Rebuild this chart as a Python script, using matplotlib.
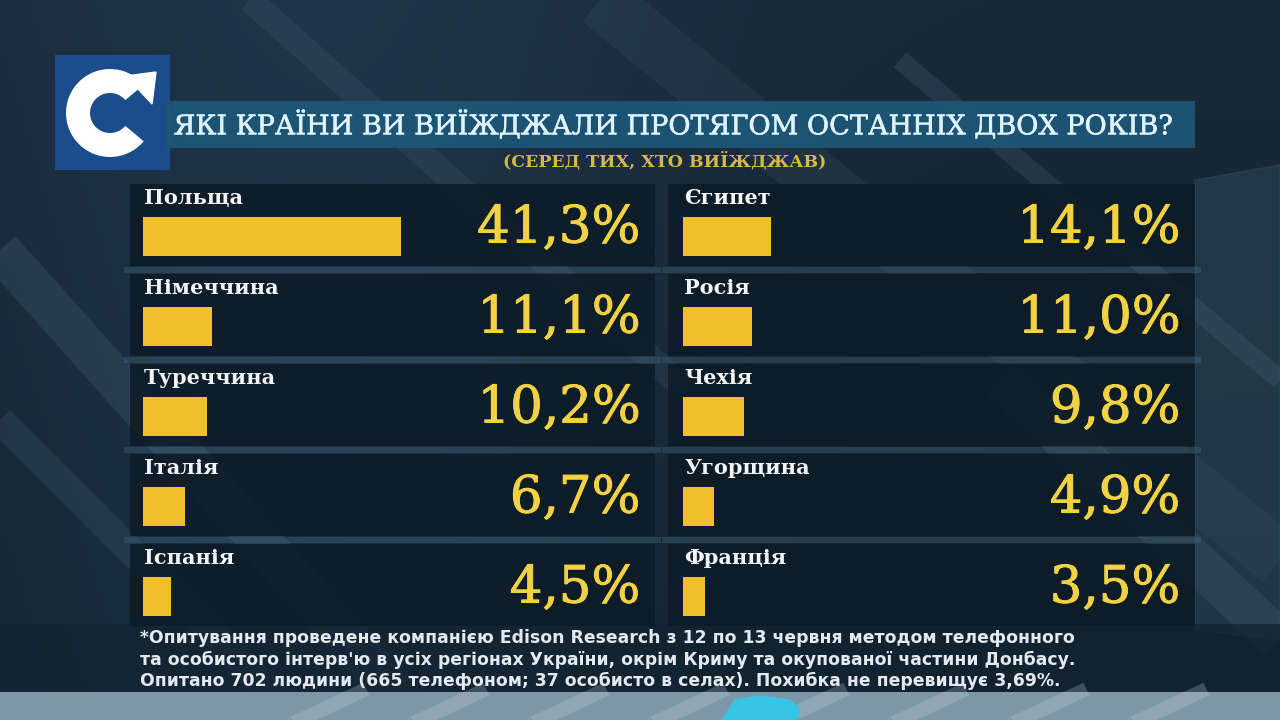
import matplotlib
matplotlib.use("Agg")
import matplotlib.pyplot as plt
import matplotlib.patheffects as pe
import numpy as np
from matplotlib.patches import Rectangle, Polygon, Wedge

# ---------------- data ----------------
left_countries = ["Польща", "Німеччина", "Туреччина", "Італія", "Іспанія"]
left_values = [41.3, 11.1, 10.2, 6.7, 4.5]
right_countries = ["Єгипет", "Росія", "Чехія", "Угорщина", "Франція"]
right_values = [14.1, 11.0, 9.8, 4.9, 3.5]

title = "ЯКІ КРАЇНИ ВИ ВИЇЖДЖАЛИ ПРОТЯГОМ ОСТАННІХ ДВОХ РОКІВ?"
subtitle = "(СЕРЕД ТИХ, ХТО ВИЇЖДЖАВ)"
footnote = ["*Опитування проведене компанією Edison Research з 12 по 13 червня методом телефонного",
            "та особистого інтерв'ю в усіх регіонах України, окрім Криму та окупованої частини Донбасу.",
            "Опитано 702 людини (665 телефоном; 37 особисто в селах). Похибка не перевищує 3,69%."]

BAR = "#f0c02a"
PCT = "#f2d245"
W, H = 1280, 720

fig = plt.figure(figsize=(12.8, 7.2), dpi=100)

# ---------------- background ----------------
bg = fig.add_axes([0, 0, 1, 1])
bg.set_xlim(0, W)
bg.set_ylim(H, 0)
bg.axis("off")
grad = np.linspace(0, 1, 256)
img = np.zeros((256, 256, 3))
top = np.array([0x1c, 0x30, 0x42]) / 255
bot = np.array([0x16, 0x2a, 0x3a]) / 255
for i in range(256):
    img[i, :, :] = top * (1 - grad[i]) + bot * grad[i]
xx = np.linspace(0, 1, 256)
img *= (0.85 + 0.25 * np.exp(-((xx - 0.25) ** 2) / 0.08))[None, :, None]
bg.imshow(np.clip(img, 0, 1), extent=[0, W, H, 0], aspect="auto", zorder=0)

# diagonal light streaks
streaks = [((0, 250), (420, 720), 30, 0.10), ((250, 0), (720, 420), 18, 0.07),
           ((600, 0), (1280, 560), 40, 0.06), ((900, 60), (1280, 380), 14, 0.10),
           ((0, 420), (300, 720), 20, 0.08), ((1000, 380), (1280, 640), 30, 0.10)]
for (x0, y0), (x1, y1), w, a in streaks:
    bg.plot([x0, x1], [y0, y1], color="#9fc3d8", lw=w, alpha=a, solid_capstyle="butt", zorder=1)
bg.add_patch(Polygon([(1195, 180), (1280, 165), (1280, 640), (1195, 630)],
                     closed=True, color="#3f6276", alpha=0.3, zorder=1))

# panel grid (decoration)
row_top0, pitch = 182, 90
col_x = [(130, 655), (668, 1195)]
for c in range(2):
    x0, x1 = col_x[c]
    for r in range(5):
        y0 = row_top0 + r * pitch + 2
        bg.add_patch(Rectangle((x0, y0), x1 - x0, 82, facecolor="#0d1b26", alpha=0.88,
                               edgecolor="none", zorder=2))
    for r in range(4):
        y0 = row_top0 + r * pitch + 84
        bg.add_patch(Rectangle((x0 - 6, y0 + 1), x1 - x0 + 12, 6, facecolor="#4a6f86",
                               alpha=0.32, edgecolor="none", zorder=1.5))

# footnote band and bottom strip
bg.add_patch(Rectangle((0, 624), W, 68, facecolor="#12222f", alpha=0.75, edgecolor="none", zorder=1.6))
bg.add_patch(Rectangle((0, 692), W, 28, facecolor="#7d97a8", edgecolor="none", zorder=1.7))
for k in range(8):
    bg.plot([300 + 120 * k, 360 + 120 * k], [720, 692], color="#c5d5de", lw=10, alpha=0.25, zorder=1.8)
bg.add_patch(Polygon([(722, 720), (735, 700), (760, 696), (790, 700), (800, 710), (796, 720)],
                     closed=True, color="#38c4e4", zorder=1.9))

# logo
bg.add_patch(Rectangle((55, 55), 115, 115, facecolor="#1b4d8c", edgecolor="none", zorder=3))
bg.add_patch(Wedge((110, 113), 44, 40, 320, width=24, facecolor="white", edgecolor="none", zorder=4))
bg.add_patch(Polygon([(126, 76), (156, 72), (152, 104)], closed=True, color="white", zorder=4))

# title band
bg.add_patch(Rectangle((165, 101), 1030, 47, facecolor="#1d5676", alpha=0.95, edgecolor="none", zorder=3))
bg.text(674, 125, title, ha="center", va="center", fontsize=19.5, color="#dff3fb",
        family=["DejaVu Serif"], zorder=5,
        path_effects=[pe.withStroke(linewidth=0.4, foreground="#dff3fb")])
bg.text(665, 161, subtitle, ha="center", va="center", fontsize=12.5, color="#d6b945",
        family=["DejaVu Serif"], fontweight="bold", zorder=5)

for i, line in enumerate(footnote):
    bg.text(140, 638 + i * 21.5, line, ha="left", va="center", fontsize=12.4, color="#e3e9ee",
            family=["DejaVu Sans"], fontweight="bold", zorder=5)

# ---------------- data axes ----------------
def px_axes(x0, x1, y0, y1):
    return fig.add_axes([x0 / W, 1 - y1 / H, (x1 - x0) / W, (y1 - y0) / H])

def draw_column(ax, names, vals):
    ax.set_xlim(0, 80)
    ax.set_ylim(4.5, -0.5)
    ax.axis("off")
    ax.patch.set_alpha(0)
    ypos = np.arange(len(names))
    ax.barh(ypos + 0.106, vals, height=0.435, color=BAR, edgecolor="none")
    for y, n, v in zip(ypos, names, vals):
        ax.text(0.2, y - 0.32, n, ha="left", va="center", fontsize=15, color="#f2f4f5",
                family=["DejaVu Serif"], fontweight="bold")
        ax.text(79.6, y + 0.02, f"{v:.1f}%".replace(".", ","), ha="right", va="center",
                fontsize=37, color=PCT, family=["DejaVu Serif"],
                path_effects=[pe.withStroke(linewidth=0.7, foreground=PCT)])

axL = px_axes(143, 643, row_top0, row_top0 + 5 * pitch)
draw_column(axL, left_countries, left_values)
axR = px_axes(683, 1183, row_top0, row_top0 + 5 * pitch)
draw_column(axR, right_countries, right_values)

fig.savefig("out.png", dpi=100)
